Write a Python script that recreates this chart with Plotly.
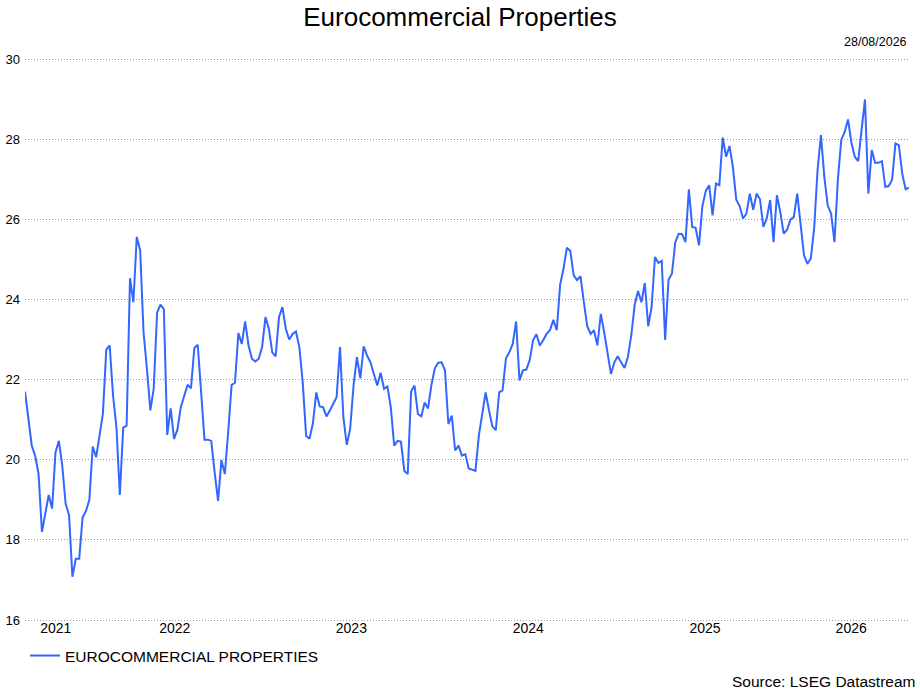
import pandas as pd
import plotly.graph_objects as go

# weekly closes, 27/08/2021 -> 28/08/2026
end_date = "2026-08-28"
series_name = "EUROCOMMERCIAL PROPERTIES"
values = [
    21.70, 21.05, 20.35, 20.10, 19.65, 18.20, 18.68, 19.12, 18.78, 20.18,
    20.47, 19.85, 18.90, 18.62, 17.08, 17.53, 17.53, 18.56, 18.72, 19.00,
    20.33, 20.06, 20.60, 21.15, 22.75, 22.85, 21.60, 20.80, 19.12, 20.80,
    20.85, 24.53, 23.93, 25.56, 25.23, 23.18, 22.27, 21.23, 21.77, 23.67,
    23.87, 23.75, 20.62, 21.28, 20.52, 20.75, 21.31, 21.62, 21.87, 21.78,
    22.79, 22.87, 21.68, 20.50, 20.50, 20.47, 19.68, 18.97, 19.99, 19.64,
    20.70, 21.87, 21.92, 23.16, 22.89, 23.45, 22.85, 22.52, 22.45, 22.52,
    22.81, 23.56, 23.27, 22.68, 22.58, 23.56, 23.81, 23.27, 23.00, 23.14,
    23.20, 22.81, 21.93, 20.60, 20.52, 20.91, 21.68, 21.33, 21.31, 21.08,
    21.23, 21.39, 21.56, 22.81, 21.06, 20.37, 20.77, 21.85, 22.56, 22.03,
    22.83, 22.60, 22.43, 22.14, 21.85, 22.17, 21.77, 21.83, 21.31, 20.35,
    20.47, 20.45, 19.72, 19.64, 21.70, 21.85, 21.14, 21.08, 21.43, 21.28,
    21.87, 22.28, 22.42, 22.43, 22.23, 20.89, 21.10, 20.23, 20.35, 20.10,
    20.14, 19.78, 19.74, 19.72, 20.60, 21.10, 21.68, 21.23, 20.83, 20.74,
    21.68, 21.73, 22.53, 22.68, 22.89, 23.45, 21.98, 22.23, 22.25, 22.48,
    22.98, 23.13, 22.85, 22.98, 23.14, 23.23, 23.49, 23.23, 24.37, 24.77,
    25.29, 25.21, 24.60, 24.48, 24.58, 23.93, 23.33, 23.14, 23.23, 22.85,
    23.64, 23.18, 22.65, 22.14, 22.43, 22.58, 22.43, 22.29, 22.56, 23.10,
    23.86, 24.21, 23.93, 24.41, 23.33, 23.81, 25.06, 24.91, 24.96, 22.99,
    24.49, 24.64, 25.43, 25.64, 25.63, 25.43, 26.75, 25.81, 25.79, 25.35,
    26.33, 26.71, 26.85, 26.10, 26.89, 26.85, 28.04, 27.56, 27.83, 27.31,
    26.49, 26.33, 26.02, 26.14, 26.64, 26.24, 26.64, 26.50, 25.81, 26.02,
    26.48, 25.43, 26.60, 26.18, 25.64, 25.74, 25.99, 26.06, 26.64, 25.89,
    25.10, 24.89, 25.02, 25.77, 27.23, 28.10, 27.06, 26.35, 26.14, 25.43,
    26.99, 27.98, 28.18, 28.49, 27.91, 27.56, 27.45, 28.23, 28.99, 26.64,
    27.73, 27.41, 27.41, 27.45, 26.81, 26.83, 26.98, 27.89, 27.85, 27.14,
    26.75, 26.79,
]
dates = pd.date_range(end=end_date, periods=len(values), freq="7D")
years = [2021, 2022, 2023, 2024, 2025, 2026]
y_ticks = [16, 18, 20, 22, 24, 26, 28, 30]

FONT = "Arial, Liberation Sans, sans-serif"

# year labels sit in the middle of the visible part of each year
x_lo, x_hi = dates[0], dates[-1]
tick_mid = []
for yr in years:
    a = max(pd.Timestamp(f"{yr}-01-01"), x_lo)
    b = min(pd.Timestamp(f"{yr + 1}-01-01"), x_hi)
    tick_mid.append(a + (b - a) / 2)

fig = go.Figure()
fig.add_trace(go.Scatter(
    x=dates, y=values, mode="lines", name=series_name,
    line=dict(color="#3366ff", width=2),
))

fig.update_layout(
    width=920, height=691,
    margin=dict(l=25, r=11, t=57, b=69),
    paper_bgcolor="white", plot_bgcolor="white",
    font=dict(family=FONT, color="#000000", size=12),
    title=dict(text="Eurocommercial Properties", x=0.5, xanchor="center",
               y=0.975, yanchor="middle", font=dict(size=26, color="#000000")),
    showlegend=True,
    legend=dict(orientation="h", x=0.0, xanchor="left", y=-0.03, yanchor="top",
                font=dict(size=15.5), bgcolor="rgba(0,0,0,0)"),
    annotations=[
        dict(text="28/08/2026", xref="paper", yref="paper", x=1.0, y=1.0,
             xanchor="right", yanchor="bottom", yshift=6, showarrow=False,
             font=dict(size=12.5)),
        dict(text="Source: LSEG Datastream", xref="paper", yref="paper", x=1.0, y=0,
             xanchor="right", yanchor="middle", xshift=9, yshift=-59, showarrow=False,
             font=dict(size=15.5)),
    ],
)
fig.update_xaxes(
    range=[x_lo, x_hi], showgrid=False, zeroline=False, showline=False,
    tickvals=tick_mid, ticktext=[str(y) for y in years], ticks="",
    ticklabelstandoff=-4, tickfont=dict(size=14),
)
# range padded slightly so the 16 and 30 gridlines are drawn
fig.update_yaxes(
    range=[15.95, 30.05], tickvals=y_ticks, showgrid=True, gridcolor="#999999",
    griddash="1px,2px", gridwidth=1, zeroline=False, showline=False, ticks="",
    ticklabelstandoff=4, automargin=False, tickfont=dict(size=13),
)

fig.write_html("out.html", config={"displayModeBar": False},
               post_script="document.body.style.margin='0';")
